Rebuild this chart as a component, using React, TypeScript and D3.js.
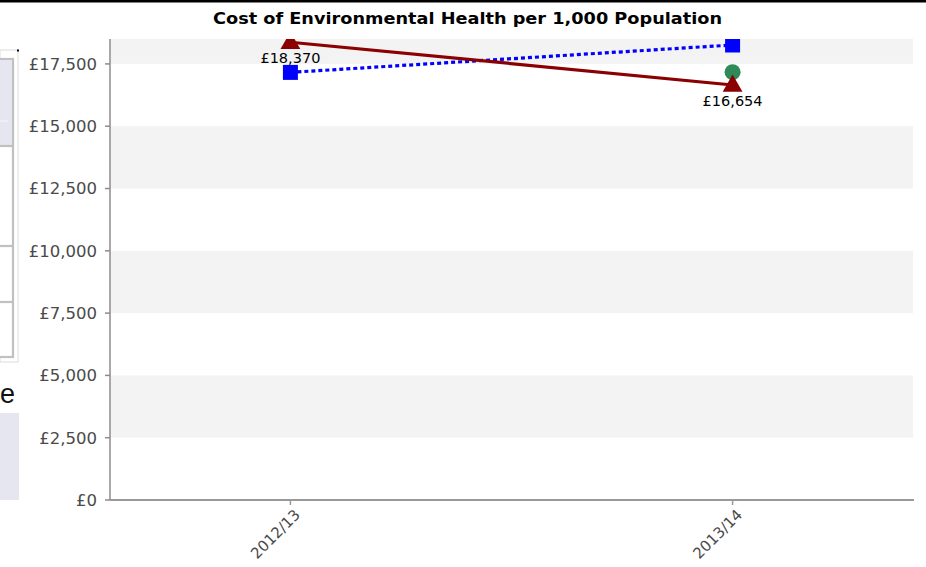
import React from "react";
import * as d3 from "d3";

const categories = ["2012/13", "2013/14"];
const redValues = [18370, 16654];
const blueValues = [17160, 18260];
const greenValues: (number | null)[] = [null, 17170];
const yTicks = [0, 2500, 5000, 7500, 10000, 12500, 15000, 17500];
const yMax = 18500;
const title = "Cost of Environmental Health per 1,000 Population";

const W = 926;
const H = 567;
const m = { left: 110, right: 913, top: 39, bottom: 500 };

export default function App() {
  const x = d3.scalePoint<string>().domain(categories).range([m.left, m.right]).padding(0.408);
  const y = d3.scaleLinear().domain([0, yMax]).range([m.bottom, m.top]);
  const fmt = (v: number) => "£" + d3.format(",")(v);

  const bandEdges = [...yTicks, yMax];
  const bands = bandEdges.slice(0, -1).map((v, i) => ({ lo: v, hi: bandEdges[i + 1], gray: i % 2 === 1 }));

  const line = d3
    .line<number | null>()
    .defined((d) => d != null)
    .x((_, i) => x(categories[i]) as number)
    .y((d) => y(d as number));

  const tri = d3.symbol().type(d3.symbolTriangle).size(170)() as string;
  const font = "'DejaVu Sans', Verdana, sans-serif";

  return (
    <svg width={W} height={H} style={{ position: "absolute", left: 0, top: 0, background: "#fff" }}>
      <defs>
        <clipPath id="plotClip">
          <rect x={m.left} y={m.top} width={m.right - m.left + 10} height={m.bottom - m.top + 10} />
        </clipPath>
      </defs>
      {/* top border */}
      <rect x={0} y={0} width={W} height={2.5} fill="#000" />

      {/* left-side page fragments */}
      <rect x={0} y={50} width={18} height={312} fill="#fff" stroke="#dcdcdc" strokeWidth={1} />
      <rect x={17} y={49.5} width={2} height={2} fill="#000" />
      <rect x={-2} y={59} width={15} height={298} fill="#fff" stroke="#c0c0c0" strokeWidth={2.2} />
      <rect x={0} y={60} width={12} height={85} fill="#e6e6f1" />
      <line x1={0} x2={8} y1={121} y2={121} stroke="#f5f5fa" strokeWidth={1} />
      <line x1={0} x2={13} y1={146} y2={146} stroke="#c0c0c0" strokeWidth={2.2} />
      <line x1={0} x2={13} y1={246} y2={246} stroke="#c0c0c0" strokeWidth={2.2} />
      <line x1={0} x2={13} y1={302} y2={302} stroke="#c0c0c0" strokeWidth={2.2} />
      <text x={0} y={403} textAnchor="start" fontFamily="'Liberation Sans', Arial, sans-serif" fontSize={27} fill="#111">
        e
      </text>
      <rect x={0} y={413} width={19} height={87} fill="#e6e6f1" />

      {/* title */}
      <text
        x={467.5}
        y={24}
        textAnchor="middle"
        fontFamily={font}
        fontWeight="bold"
        fontSize={16}
        textLength={509}
        lengthAdjust="spacingAndGlyphs"
        fill="#000"
      >
        {title}
      </text>

      {/* bands */}
      {bands.map((b, i) =>
        b.gray ? (
          <rect key={i} x={m.left} y={y(b.hi)} width={m.right - m.left} height={y(b.lo) - y(b.hi)} fill="#f3f3f3" />
        ) : null
      )}

      {/* y axis */}
      <line x1={m.left} x2={m.left} y1={m.top} y2={m.bottom} stroke="#8c8c8c" strokeWidth={1.5} />
      {yTicks.map((t) => (
        <g key={t}>
          <line x1={m.left - 5} x2={m.left} y1={y(t)} y2={y(t)} stroke="#8c8c8c" strokeWidth={1.5} />
          <text x={97} y={y(t)} dy="0.36em" textAnchor="end" fontFamily={font} fontSize={16.5} fill="#4a4a4a">
            {fmt(t)}
          </text>
        </g>
      ))}

      {/* x axis */}
      <line x1={m.left} x2={914} y1={m.bottom} y2={m.bottom} stroke="#999" strokeWidth={2} />
      {categories.map((c) => (
        <g key={c}>
          <line x1={x(c)} x2={x(c)} y1={m.bottom} y2={m.bottom + 5} stroke="#999" strokeWidth={1.5} />
          <text
            transform={`translate(${(x(c) as number) + 7},${m.bottom + 12}) rotate(-45)`}
            textAnchor="end"
            dy="0.35em"
            fontFamily={font}
            fontSize={15}
            fill="#4a4a4a"
          >
            {c}
          </text>
        </g>
      ))}

      <g clipPath="url(#plotClip)">
        {/* blue dotted series */}
        <path d={line(blueValues) as string} fill="none" stroke="#0000ff" strokeWidth={3.2} strokeDasharray="4,3" />
        {/* red series */}
        <path d={line(redValues) as string} fill="none" stroke="#8b0000" strokeWidth={3.2} />
        {/* markers */}
        {blueValues.map((v, i) => (
          <rect key={"b" + i} x={(x(categories[i]) as number) - 7.5} y={y(v) - 7.5} width={15} height={15} fill="#0000ff" />
        ))}
        {greenValues.map((v, i) =>
          v == null ? null : <circle key={"g" + i} cx={x(categories[i])} cy={y(v)} r={8} fill="#2e8b57" />
        )}
        {redValues.map((v, i) => (
          <path key={"r" + i} d={tri} transform={`translate(${x(categories[i])},${y(v) + 1})`} fill="#8b0000" />
        ))}
      </g>

      {/* data labels */}
      {redValues.map((v, i) => (
        <text
          key={"l" + i}
          x={x(categories[i]) as number}
          y={y(v) + 21}
          textAnchor="middle"
          fontFamily={font}
          fontSize={14.5}
          fill="#000"
        >
          {fmt(v)}
        </text>
      ))}
    </svg>
  );
}
